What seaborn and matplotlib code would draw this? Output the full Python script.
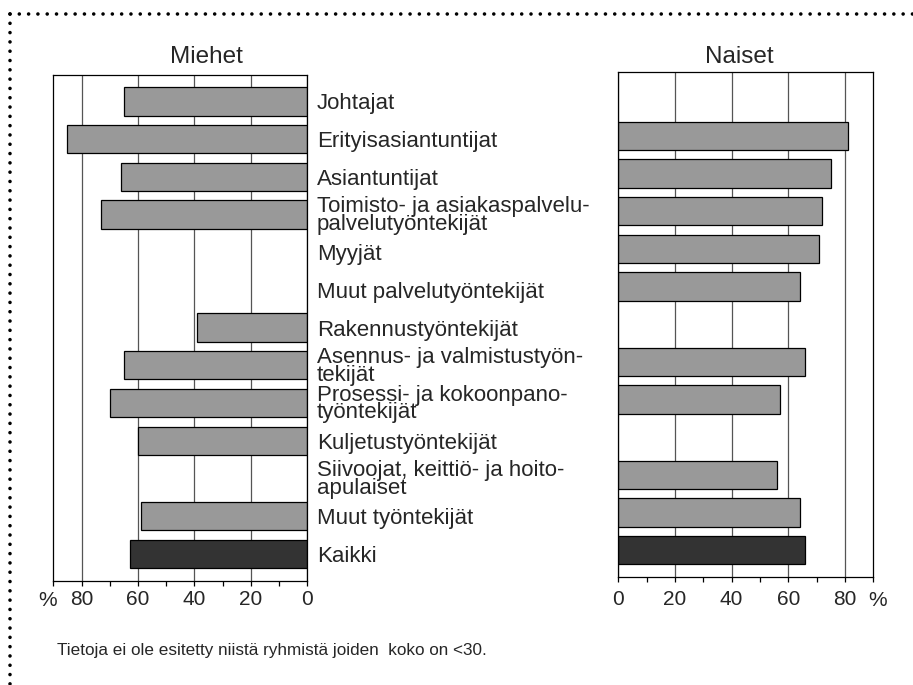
import numpy as np
import pandas as pd
import matplotlib
matplotlib.use("Agg")
import matplotlib.pyplot as plt
from matplotlib.lines import Line2D
from matplotlib.ticker import MultipleLocator, FixedLocator
import seaborn as sns

categories = [
    "Johtajat",
    "Erityisasiantuntijat",
    "Asiantuntijat",
    "Toimisto- ja asiakaspalvelu-\npalvelutyöntekijät",
    "Myyjät",
    "Muut palvelutyöntekijät",
    "Rakennustyöntekijät",
    "Asennus- ja valmistustyön-\ntekijät",
    "Prosessi- ja kokoonpano-\ntyöntekijät",
    "Kuljetustyöntekijät",
    "Siivoojat, keittiö- ja hoito-\napulaiset",
    "Muut työntekijät",
    "Kaikki",
]
men = [65, 85, 66, 73, np.nan, np.nan, 39, 65, 70, 60, np.nan, 59, 63]
women = [np.nan, 81, 75, 72, 71, 64, np.nan, 66, 57, np.nan, 56, 64, 66]
major_ticks = [0, 20, 40, 60, 80]
tick_labels = ["0", "20", "40", "60", "80"]
panel_titles = ["Miehet", "Naiset"]
footnote = "Tietoja ei ole esitetty niistä ryhmistä joiden  koko on <30."

sns.set_style("white")
plt.rcParams["font.family"] = ["Liberation Sans", "DejaVu Sans"]

bar_gray = "#999999"
bar_dark = "#333333"
palette = {c: (bar_dark if c == "Kaikki" else bar_gray) for c in categories}

df = pd.DataFrame({"cat": categories, "men": men, "women": women})

W, H = 913, 685
fig = plt.figure(figsize=(W / 100, H / 100), dpi=100)
fig.patch.set_facecolor("white")

axL = fig.add_axes([53.3 / W, 1 - 581 / H, 254 / W, 506 / H])
axR = fig.add_axes([618.3 / W, 1 - 577.3 / H, 255 / W, 505.6 / H])

for ax, col in ((axL, "men"), (axR, "women")):
    d = df.dropna(subset=[col])
    sns.barplot(data=d, y="cat", x=col, hue="cat", order=categories,
                hue_order=categories, palette=palette, orient="h",
                width=0.75, edgecolor="black", linewidth=0.9,
                legend=False, ax=ax, errorbar=None, saturation=1)
    ax.set_xlim(0, 90)
    ax.set_ylim(12.72, -0.70)
    ax.set_xlabel("")
    ax.set_ylabel("")
    ax.set_axisbelow(True)
    ax.xaxis.set_major_locator(FixedLocator(major_ticks))
    ax.set_xticklabels(tick_labels)
    ax.xaxis.set_minor_locator(MultipleLocator(10))
    ax.grid(axis="x", which="major", color="#555555", linewidth=0.9)
    ax.grid(axis="y", visible=False)
    for s in ax.spines.values():
        s.set_visible(True)
        s.set_color("black")
        s.set_linewidth(0.9)
    ax.tick_params(axis="x", which="both", direction="out", length=3.8,
                   width=0.9, color="black", bottom=True, labelsize=15)

axL.invert_xaxis()
axL.tick_params(axis="x", which="both", pad=3)
axR.tick_params(axis="x", which="both", pad=5.6)

# category labels on the right side of the men panel
axL.yaxis.tick_right()
axL.tick_params(axis="y", length=0, pad=6.8, labelsize=16)
for t in axL.get_yticklabels():
    t.set_linespacing(0.8)
axR.set_yticks([])

# panel titles
fig.text(206 / W, 1 - 62.7 / H, panel_titles[0], ha="center", va="baseline", fontsize=17.5)
fig.text(739 / W, 1 - 62.7 / H, panel_titles[1], ha="center", va="baseline", fontsize=17.5)

# percent signs
fig.text(48 / W, 1 - 606 / H, "%", ha="center", va="baseline", fontsize=15)
fig.text(877.5 / W, 1 - 606 / H, "%", ha="center", va="baseline", fontsize=15)

# footnote
fig.text(57 / W, 1 - 650 / H, footnote, ha="left", va="center", fontsize=12.3)

# dotted frame (top and left)
lw = 2.6
gap = 9.3 / (lw * 100 / 72)
top = Line2D([10 / W, 1.0], [1 - 14 / H, 1 - 14 / H], transform=fig.transFigure,
             color="black", linewidth=lw, linestyle=(0, (0.001, gap)),
             dash_capstyle="round")
left = Line2D([10 / W, 10 / W], [1 - 14 / H, 0.0], transform=fig.transFigure,
              color="black", linewidth=lw, linestyle=(0, (0.001, gap)),
              dash_capstyle="round")
fig.add_artist(top)
fig.add_artist(left)

fig.savefig("out.png", dpi=100)
